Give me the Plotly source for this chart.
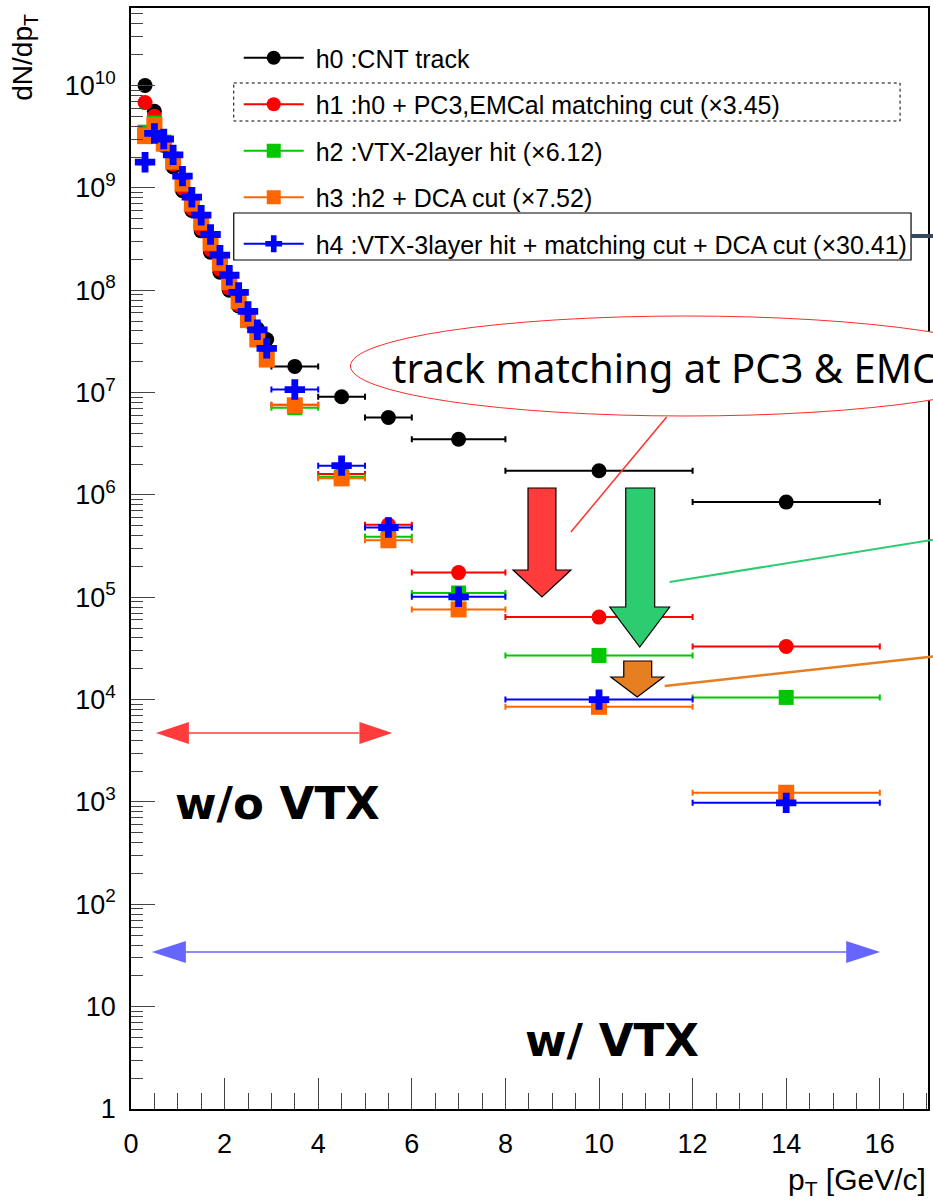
import plotly.graph_objects as go

# ---- data: pT bin centres, half widths and dN/dpT per selection ----
pt = [0.3, 0.5, 0.7, 0.9, 1.1, 1.3, 1.5, 1.7, 1.9, 2.1, 2.3, 2.5, 2.7, 2.9,
      3.5, 4.5, 5.5, 7.0, 10.0, 14.0]
pt_err = [0.1] * 14 + [0.5, 0.5, 0.5, 1.0, 2.0, 2.0]

h0 = [1.0e10, 5.6e9, 2.6e9, 1.6e9, 9.4e8, 6.0e8, 3.8e8, 2.35e8, 1.5e8, 1.0e8,
      7.0e7, 5.0e7, 4.2e7, 3.3e7, 1.8e7, 9.1e6, 5.7e6, 3.5e6, 1.72e6, 8.5e5]
h1 = [6.8e9, 5.0e9, 2.8e9, 1.7e9, 1.0e9, 6.3e8, 4.0e8, 2.5e8, 1.6e8, 1.05e8,
      7.2e7, 5.0e7, 3.6e7, 2.5e7, 7.6e6, 1.6e6, 5.1e5, 1.74e5, 6.4e4, 3.3e4]
h2 = [3.5e9, 4.3e9, 2.8e9, 1.85e9, 1.15e9, 7.3e8, 4.8e8, 3.0e8, 1.95e8, 1.25e8,
      8.1e7, 5.3e7, 3.4e7, 2.2e7, 7.1e6, 1.5e6, 3.9e5, 1.1e5, 2.7e4, 1.05e4]
h3 = [3.2e9, 4.1e9, 2.7e9, 1.8e9, 1.1e9, 7.0e8, 4.6e8, 2.9e8, 1.85e8, 1.2e8,
      7.8e7, 5.1e7, 3.3e7, 2.1e7, 7.5e6, 1.45e6, 3.6e5, 7.6e4, 8.5e3, 1.23e3]
h4 = [1.78e9, 3.4e9, 3.0e9, 2.1e9, 1.3e9, 8.1e8, 5.4e8, 3.5e8, 2.2e8, 1.4e8,
      9.5e7, 6.2e7, 4.1e7, 2.7e7, 1.07e7, 1.93e6, 4.8e5, 1.01e5, 1.0e4, 9.8e2]

labels = [
    "h0 :CNT track",
    "h1 :h0 + PC3,EMCal matching cut (\u00d73.45)",
    "h2 :VTX-2layer hit (\u00d76.12)",
    "h3 :h2 + DCA cut (\u00d77.52)",
    "h4 :VTX-3layer hit + matching cut + DCA cut (\u00d730.41)",
]
series = [h0, h1, h2, h3, h4]
colors = ["#000000", "#ff0000", "#00c800", "#ff6600", "#0000ff"]
symbols = ["circle", "circle", "square", "square", "cross"]
sizes = [15, 15, 15, 16, 17]

y_decades = list(range(0, 11))
y_ticktext = ["1", "10"] + ["10<sup>%d</sup>" % k for k in y_decades[2:]]
x_ticks = list(range(0, 17, 2))

# ---- page geometry (pixels) ----
W, H = 933, 1202
ML, MR, MT, MB = 131, 3, 8, 93
PW, PH = W - ML - MR, H - MT - MB


def px(x):
    return (x - ML) / PW


def py(y):
    return (H - MB - y) / PH


fig = go.Figure()

for name, vals, col, sym, sz in zip(labels, series, colors, symbols, sizes):
    fig.add_trace(go.Scatter(
        x=pt, y=vals, mode="markers", showlegend=False,
        marker=dict(symbol=sym, size=sz, color=col, line=dict(width=0)),
        error_x=dict(type="data", array=pt_err, color=col, thickness=2, width=3),
    ))

# legend entries (line + marker samples)
for i, (name, col, sym) in enumerate(zip(labels, colors, symbols)):
    fig.add_trace(go.Scatter(
        x=[None], y=[None], mode="lines+markers", name="\u00a0" + name,
        legendgroup="g%d" % i,
        line=dict(color=col, width=2),
        marker=dict(symbol=sym, size=14, color=col),
    ))

shapes = []
annotations = []

# boxes around two legend rows
shapes.append(dict(type="rect", xref="paper", yref="paper",
                   x0=px(234), x1=px(902), y0=py(83), y1=py(121),
                   line=dict(color="black", width=1, dash="dot")))
shapes.append(dict(type="rect", xref="paper", yref="paper",
                   x0=px(234), x1=px(913), y0=py(213), y1=py(260),
                   line=dict(color="black", width=1.2)))
shapes.append(dict(type="line", xref="paper", yref="paper",
                   x0=px(913), x1=px(940), y0=py(236), y1=py(236),
                   line=dict(color="#34495e", width=4)))

# callout ellipse
shapes.append(dict(type="circle", xref="paper", yref="paper",
                   x0=px(351), x1=px(1023), y0=py(416), y1=py(316),
                   line=dict(color="#ff2a2a", width=1), fillcolor="white"))

# pointer lines
shapes.append(dict(type="line", xref="paper", yref="paper",
                   x0=px(668), y0=py(417), x1=px(572), y1=py(532),
                   line=dict(color="#ff3030", width=1.5)))
shapes.append(dict(type="line", xref="paper", yref="paper",
                   x0=px(671), y0=py(582), x1=px(940), y1=py(539),
                   line=dict(color="#2ecc71", width=2)))
shapes.append(dict(type="line", xref="paper", yref="paper",
                   x0=px(666), y0=py(686), x1=px(940), y1=py(656),
                   line=dict(color="#e67e22", width=2.5)))


def block_arrow(xl, xr, ytop, ybase, hl, hr, tip, color):
    xc = (hl + hr) / 2
    pts = [(xl, ytop), (xr, ytop), (xr, ybase), (hr, ybase), (xc, tip),
           (hl, ybase), (xl, ybase)]
    path = "M " + " L ".join("%f,%f" % (px(a), py(b)) for a, b in pts) + " Z"
    return dict(type="path", xref="paper", yref="paper", path=path,
                fillcolor=color, line=dict(color="black", width=1.2))


shapes.append(block_arrow(529, 557, 488, 570, 514, 572, 597, "#ff3b3b"))
shapes.append(block_arrow(627, 656, 488, 607, 611, 671, 647, "#2ecc71"))
shapes.append(block_arrow(625, 653, 661, 677, 612, 665, 697, "#e67e22"))


def double_arrow(x0, x1, y, head, half, color):
    out = [dict(type="line", xref="paper", yref="paper",
                x0=px(x0 + head), x1=px(x1 - head), y0=py(y), y1=py(y),
                line=dict(color=color, width=1.5))]
    for tip, base in ((x0, x0 + head), (x1, x1 - head)):
        path = "M %f,%f L %f,%f L %f,%f Z" % (
            px(tip), py(y), px(base), py(y - half), px(base), py(y + half))
        out.append(dict(type="path", xref="paper", yref="paper", path=path,
                        fillcolor=color, line=dict(color=color, width=0)))
    return out


shapes += double_arrow(156, 393, 733, 33, 11, "#ff3b3b")
shapes += double_arrow(152, 882, 952, 34, 11, "#6666ff")

annotations.append(dict(xref="paper", yref="paper", x=px(391), y=py(367),
                        xanchor="left", yanchor="middle", showarrow=False,
                        text="track matching at PC3 &amp; EMCal",
                        font=dict(family="Noto Sans", size=40, color="black")))
annotations.append(dict(xref="paper", yref="paper", x=px(173), y=py(803),
                        xanchor="left", yanchor="middle", showarrow=False,
                        text="w/o VTX",
                        font=dict(family="DejaVu Sans", size=45, color="black", weight=700)))
annotations.append(dict(xref="paper", yref="paper", x=px(524), y=py(1040),
                        xanchor="left", yanchor="middle", showarrow=False,
                        text="w/ VTX",
                        font=dict(family="DejaVu Sans", size=45, color="black", weight=700)))

# axis titles
annotations.append(dict(xref="paper", yref="paper", x=px(930), y=py(1181),
                        xanchor="right", yanchor="middle", showarrow=False,
                        text="p<sub>T</sub> [GeV/c]",
                        font=dict(family="Liberation Sans", size=30, color="black")))
annotations.append(dict(xref="paper", yref="paper", x=px(24), y=py(12),
                        xanchor="center", yanchor="top", showarrow=False,
                        textangle=-90, text="dN/dp<sub>T</sub>",
                        font=dict(family="Liberation Sans", size=28, color="black")))

minor_y = [m * 10 ** k for k in range(0, 11) for m in range(2, 10) if m * 10 ** k < 5.7e10]

fig.update_layout(
    width=W, height=H,
    margin=dict(l=ML, r=MR, t=MT, b=MB),
    paper_bgcolor="white", plot_bgcolor="white",
    font=dict(family="Liberation Sans", color="black"),
    shapes=shapes, annotations=annotations,
    legend=dict(x=px(239), y=py(35), xanchor="left", yanchor="top",
                bgcolor="rgba(0,0,0,0)", borderwidth=0,
                font=dict(family="Liberation Sans", size=25, color="black"),
                tracegroupgap=11, itemwidth=60, traceorder="grouped"),
    xaxis=dict(range=[0, 17.03], showline=True, linecolor="black", linewidth=1.5,
               mirror=True, showgrid=False, zeroline=False,
               tickvals=x_ticks, ticks="inside", ticklen=31, tickwidth=1.2,
               tickfont=dict(family="Liberation Sans", size=27),
               ticklabelstandoff=10,
               minor=dict(dtick=0.5, ticks="inside", ticklen=16, tickwidth=1.2,
                          showgrid=False)),
    yaxis=dict(type="log", range=[0, 10.757], showline=True, linecolor="black",
               linewidth=1.5, mirror=True, showgrid=False, zeroline=False,
               tickvals=[10 ** k for k in y_decades], ticktext=y_ticktext,
               ticks="inside", ticklen=24, tickwidth=1.2,
               tickfont=dict(family="Liberation Sans", size=27),
               ticklabelstandoff=8,
               minor=dict(tickvals=minor_y, ticks="inside", ticklen=12,
                          tickwidth=1.2, showgrid=False)),
)

fig.write_html("out.html")
